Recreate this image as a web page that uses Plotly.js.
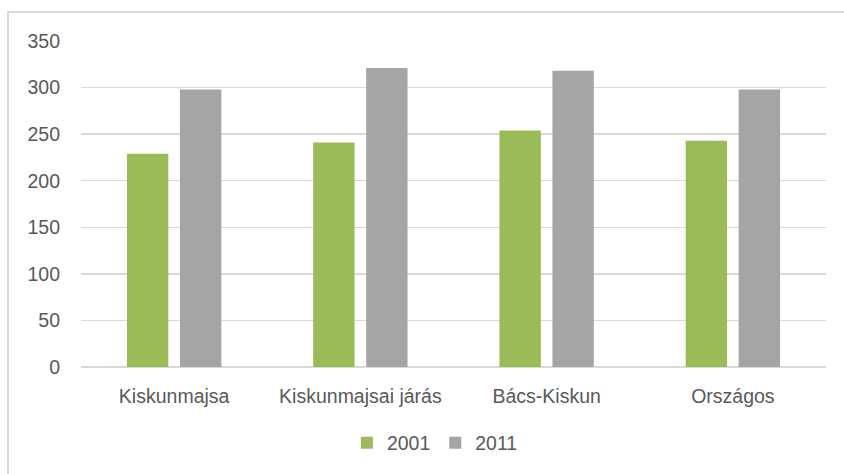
<!DOCTYPE html>
<html>
<head>
<meta charset="utf-8">
<script src="https://cdn.plot.ly/plotly-3.0.1.min.js"></script>
<style>
  html, body { margin: 0; padding: 0; background: #fff; }
  #wrap { position: relative; width: 844px; height: 474px; overflow: hidden; }
  #chart { position: absolute; left: 0; top: 0; width: 844px; height: 474px; }
  #frame { position: absolute; left: 7px; top: 11px; width: 900px; height: 470px;
           border-left: 2px solid #D9D9D9; border-top: 2px solid #D9D9D9; pointer-events: none; }
</style>
</head>
<body>
<div id="wrap">
  <div id="chart"></div>
  <div id="frame"></div>
</div>
<script>
const categories = ["Kiskunmajsa", "Kiskunmajsai járás", "Bács-Kiskun", "Országos"];
const series2001 = [229, 241, 254, 243];
const series2011 = [298, 321, 318, 298];
const yTicks = [0, 50, 100, 150, 200, 250, 300, 350];

const font = { family: "Liberation Sans, Arial, sans-serif", size: 19.5, color: "#595959" };

const traces = [
  { type: "bar", name: "2001", x: categories, y: series2001, marker: { color: "#9BBB59" }, hoverinfo: "y" },
  { type: "bar", name: "2011", x: categories, y: series2011, marker: { color: "#A5A5A5" }, hoverinfo: "y" }
];

const layout = {
  width: 844, height: 474,
  margin: { l: 81, r: 18, t: 41, b: 107, pad: 0 },
  paper_bgcolor: "#fff", plot_bgcolor: "#fff",
  font: font,
  barmode: "group",
  bargap: 0.431,
  bargroupgap: 0.219,
  xaxis: {
    type: "category",
    showgrid: false, showline: false, zeroline: false,
    ticks: "", tickfont: font, ticklabelstandoff: 15
  },
  yaxis: {
    range: [0, 350], tickvals: yTicks, ticktext: yTicks.map(String),
    showgrid: true, gridcolor: "#D9D9D9", gridwidth: 1.3,
    zeroline: true, zerolinecolor: "#D9D9D9", zerolinewidth: 1.3,
    showline: false, ticks: "", tickfont: font, ticklabelstandoff: 20
  },
  showlegend: true,
  legend: {
    orientation: "h", x: 0.475, xanchor: "center", y: -0.233, yanchor: "middle",
    font: font, traceorder: "normal", itemclick: false
  }
};

Plotly.newPlot("chart", traces, layout, { displayModeBar: false, staticPlot: true });
</script>
</body>
</html>
